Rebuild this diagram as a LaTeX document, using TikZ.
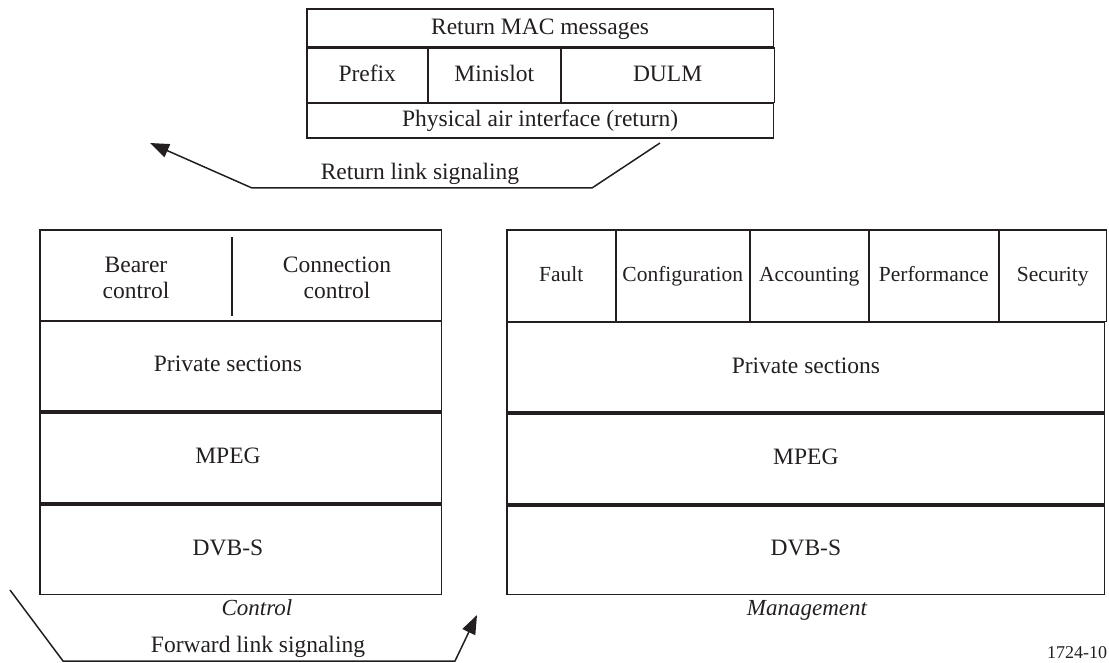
\documentclass[tikz,border=0pt]{standalone}
\usepackage{fontspec}
\setmainfont{Liberation Serif}
\usetikzlibrary{arrows.meta}
\definecolor{ink}{RGB}{35,31,32}
\begin{document}
\begin{tikzpicture}[x=1bp,y=-1bp,
  cell/.style={draw=ink, line width=1.4bp, inner sep=0pt, outer sep=0pt,
    anchor=north west, text=ink, align=center,
    text height=16.5bp, text depth=5bp,
    font=\fontsize{23.5bp}{26bp}\selectfont},
  smallcell/.style={cell, text height=15bp, text depth=4.5bp,
    font=\fontsize{21.5bp}{24bp}\selectfont},
  txt/.style={text=ink, inner sep=0pt, align=center,
    text height=16.5bp, text depth=5bp,
    font=\fontsize{23.5bp}{26bp}\selectfont},
  twoline/.style={text=ink, inner sep=0pt, align=center,
    font=\fontsize{23.5bp}{26bp}\selectfont},
  caption/.style={txt, font=\fontsize{23bp}{26bp}\selectfont\itshape},
  heavy/.style={draw=ink, line width=3.2bp},
  medium/.style={draw=ink, line width=2.3bp},
  divider/.style={draw=ink, line width=1.5bp},
  signal/.style={draw=ink, line width=1.5bp, line join=miter,
    -{Triangle[length=19bp,width=14bp]}}
]
\useasboundingbox (0,0) rectangle (1109,663);

% Return MAC protocol box
\node[cell, minimum width=468, minimum height=39] (mac) at (307,9) {Return MAC messages};
\node[cell, minimum width=121, minimum height=55] (prefix) at (307,48) {Prefix};
\node[cell, minimum width=133, minimum height=55] (minislot) at (428,48) {Minislot};
\node[cell, minimum width=214, minimum height=55] (dulm) at (561,48) {DULM};
\node[cell, minimum width=468, minimum height=35] (phy) at (307,103) {Physical air interface (return)};
\draw[heavy] (mac.south west) -- (mac.south east);
\draw[medium] (phy.north west) -- (phy.north east);

% Return link signalling path
\coordinate (retfrom) at (660,143);
\coordinate (retto) at (150,143);
\draw[signal] (retfrom) -- (592,188) -- (252,188) -- (retto);
\node[txt] (retlabel) at (420,174) {Return link signaling};

% Control stack
\node[cell, minimum width=403, minimum height=91] (ctltop) at (40,230) {};
\node[cell, minimum width=403, minimum height=91] (ctlps) at (40,321) {};
\node[cell, minimum width=403, minimum height=92] (ctlmpeg) at (40,412) {};
\node[cell, minimum width=403, minimum height=91] (ctldvb) at (40,504) {};
\draw[medium] (ctlps.north west) -- (ctlps.north east);
\draw[heavy] (ctlmpeg.north west) -- (ctlmpeg.north east);
\draw[heavy] (ctldvb.north west) -- (ctldvb.north east);
\draw[divider] (232,237) -- (232,316);
\node[twoline] (bearer) at (136,278) {Bearer\\control};
\node[twoline] (connection) at (337,278) {Connection\\control};
\node[txt] (ctlpstext) at (228,366) {Private sections};
\node[txt] (ctlmpegtext) at (228,458) {MPEG};
\node[txt] (ctldvbtext) at (228,550) {DVB-S};
\node[caption] (ctlcap) at (257,610) {Control};

% Management stack
\node[smallcell, minimum width=109, minimum height=92] (fault) at (507,230) {Fault};
\node[smallcell, minimum width=134, minimum height=92] (config) at (616,230) {Configuration};
\node[smallcell, minimum width=119, minimum height=92] (acct) at (750,230) {Accounting};
\node[smallcell, minimum width=130, minimum height=92] (perf) at (869,230) {Performance};
\node[smallcell, minimum width=108, minimum height=92] (sec) at (999,230) {Security};
\node[cell, minimum width=600, minimum height=91] (mgtps) at (507,322) {Private sections};
\node[cell, minimum width=600, minimum height=92] (mgtmpeg) at (507,413) {MPEG};
\node[cell, minimum width=600, minimum height=90] (mgtdvb) at (507,505) {DVB-S};
\draw[medium] (mgtps.north west) -- (mgtps.north east);
\draw[heavy] (mgtmpeg.north west) -- (mgtmpeg.north east);
\draw[heavy] (mgtdvb.north west) -- (mgtdvb.north east);
\node[caption] (mgtcap) at (807,610) {Management};

% Forward link signalling path
\coordinate (fwdfrom) at (10,590);
\coordinate (fwdto) at (477,615);
\draw[signal] (fwdfrom) -- (63,661) -- (455,661) -- (fwdto);
\node[txt] (fwdlabel) at (258,647) {Forward link signaling};

% Figure number
\node[txt, text height=13bp, text depth=4bp, font=\fontsize{18bp}{20bp}\selectfont] (fignum) at (1077,654) {1724-10};
\end{tikzpicture}
\end{document}
